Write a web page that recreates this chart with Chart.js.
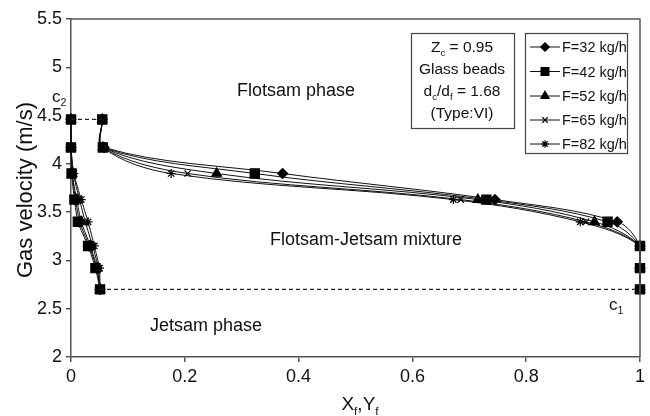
<!DOCTYPE html>
<html>
<head>
<meta charset="utf-8">
<script src="https://cdn.jsdelivr.net/npm/chart.js@4/dist/chart.umd.min.js"></script>
<style>
  html, body { margin: 0; padding: 0; background: #fff; }
  #wrap { width: 650px; height: 416px; position: relative; }
</style>
</head>
<body>
<div id="wrap"><canvas id="c" width="650" height="416"></canvas></div>
<script>
// ---- data ----
const velocities = [2.7, 2.92, 3.15, 3.4, 3.63, 3.9, 4.17, 4.46];   // gas velocity (m/s)
const seriesLabels = ['F=32 kg/h', 'F=42 kg/h', 'F=52 kg/h', 'F=65 kg/h', 'F=82 kg/h'];
const seriesMarkers = ['rectRot', 'rect', 'triangle', 'crossRot', 'star'];
// right branch (composition near 1 at low velocity)
const rightF32 = [1, 1, 1, 0.960, 0.745, 0.372, 0.058, 0.055];
const rightF42 = [1, 1, 1, 0.943, 0.730, 0.323, 0.056, 0.055];
const rightF52 = [1, 1, 1, 0.920, 0.715, 0.256, 0.056, 0.055];
const rightF65 = [1, 1, 1, 0.905, 0.685, 0.205, 0.056, 0.055];
const rightF82 = [1, 1, 1, 0.895, 0.672, 0.176, 0.056, 0.055];
// left branch (composition near 0)
const leftF32 = [0.051, 0.045, 0.032, 0.015, 0.008, 0.002, 0, 0];
const leftF42 = [0.051, 0.043, 0.030, 0.012, 0.006, 0.001, 0, 0];
const leftF52 = [0.051, 0.046, 0.034, 0.018, 0.010, 0.002, 0, 0];
const leftF65 = [0.051, 0.048, 0.038, 0.025, 0.015, 0.004, 0, 0];
const leftF82 = [0.051, 0.050, 0.041, 0.030, 0.018, 0.005, 0, 0];
// dashed boundary lines (C2 top, C1 bottom)
const c2LineX = [0, 0.055];  const c2LineY = [4.46, 4.46];
const c1LineX = [0.051, 1];  const c1LineY = [2.7, 2.7];
const xTicks = [0, 0.2, 0.4, 0.6, 0.8, 1];
const yTicks = [2, 2.5, 3, 3.5, 4, 4.5, 5, 5.5];

const rights = [rightF32, rightF42, rightF52, rightF65, rightF82];
const lefts = [leftF32, leftF42, leftF52, leftF65, leftF82];
const markerRadius = { rectRot: 5, rect: 6.5, triangle: 5.5, crossRot: 4.5, star: 4.5 };

function pts(xs, ys) { return xs.map((x, i) => ({ x: x, y: ys[i] })); }

const datasets = [];
datasets.push({ data: pts(c2LineX, c2LineY), borderColor: '#222', borderWidth: 1.2, borderDash: [4, 3], pointRadius: 0, tension: 0, clip: 10 });
datasets.push({ data: pts(c1LineX, c1LineY), borderColor: '#222', borderWidth: 1.2, borderDash: [4, 3], pointRadius: 0, tension: 0, clip: 10 });
seriesLabels.forEach((lab, i) => {
  const ps = seriesMarkers[i];
  const common = {
    label: lab, borderColor: '#111', backgroundColor: '#000', borderWidth: 1,
    pointStyle: ps, pointRadius: markerRadius[ps], pointBorderWidth: 1.2,
    pointBackgroundColor: '#000', pointBorderColor: '#000', clip: 10
  };
  datasets.push(Object.assign({}, common, { data: pts(rights[i], velocities), tension: 0.35 }));
  datasets.push(Object.assign({}, common, { data: pts(lefts[i], velocities), tension: 0.2 }));
});

const FONT = '"Liberation Sans", Arial, sans-serif';

function subText(ctx, parts, x, y, size, align) {
  let total = 0;
  parts.forEach(p => { ctx.font = (p[1] ? size * 0.62 : size) + 'px ' + FONT; total += ctx.measureText(p[0]).width; });
  let cx = align === 'center' ? x - total / 2 : (align === 'right' ? x - total : x);
  ctx.textAlign = 'left';
  ctx.textBaseline = 'alphabetic';
  parts.forEach(p => {
    ctx.font = (p[1] ? size * 0.62 : size) + 'px ' + FONT;
    ctx.fillText(p[0], cx, p[1] ? y + size * 0.25 : y);
    cx += ctx.measureText(p[0]).width;
  });
}

const decor = {
  id: 'decor',
  afterDraw(chart) {
    const ctx = chart.ctx;
    const a = chart.chartArea;
    ctx.save();
    ctx.strokeStyle = '#555';
    ctx.lineWidth = 1.5;
    ctx.beginPath();
    ctx.moveTo(a.left, a.top); ctx.lineTo(a.right, a.top); ctx.lineTo(a.right, a.bottom);
    ctx.stroke();

    ctx.fillStyle = '#111';
    ctx.font = '18px ' + FONT;
    ctx.textAlign = 'center';
    ctx.textBaseline = 'middle';
    ctx.fillText('Flotsam phase', 296, 91);
    ctx.fillText('Flotsam-Jetsam mixture', 366, 240);
    ctx.fillText('Jetsam phase', 206, 326);

    subText(ctx, [['c', false], ['2', true]], 52, 102, 17, 'left');
    subText(ctx, [['c', false], ['1', true]], 609, 310, 17, 'left');

    ctx.save();
    ctx.translate(26, 190);
    ctx.rotate(-Math.PI / 2);
    ctx.font = '22px ' + FONT;
    ctx.textAlign = 'center';
    ctx.textBaseline = 'middle';
    ctx.fillText('Gas velocity (m/s)', 0, 0);
    ctx.restore();
    subText(ctx, [['X', false], ['f', true], [',Y', false], ['f', true]], 360, 410, 19, 'center');

    ctx.strokeStyle = '#444';
    ctx.lineWidth = 1.2;
    ctx.strokeRect(411.5, 33.5, 103, 95);
    subText(ctx, [['Z', false], ['c', true], [' = 0.95', false]], 462, 52, 15.5, 'center');
    subText(ctx, [['Glass beads', false]], 462, 74, 15.5, 'center');
    subText(ctx, [['d', false], ['c', true], ['/d', false], ['f', true], [' = 1.68', false]], 462, 96, 15.5, 'center');
    subText(ctx, [['(Type:VI)', false]], 462, 118, 15.5, 'center');

    ctx.strokeRect(525.5, 33.5, 102, 120);
    const ys = [47, 71.5, 96, 120, 144];
    seriesLabels.forEach((lab, i) => {
      const y = ys[i];
      ctx.strokeStyle = '#111';
      ctx.lineWidth = 1;
      ctx.beginPath(); ctx.moveTo(530, y); ctx.lineTo(560, y); ctx.stroke();
      ctx.fillStyle = '#000';
      ctx.strokeStyle = '#000';
      ctx.lineWidth = 1.2;
      const ps = seriesMarkers[i];
      Chart.helpers.drawPoint(ctx, { pointStyle: ps, radius: markerRadius[ps] * 0.85, rotation: 0, borderWidth: 1.2 }, 545, y);
      ctx.fillStyle = '#111';
      ctx.font = '14.5px ' + FONT;
      ctx.textAlign = 'left';
      ctx.textBaseline = 'middle';
      ctx.fillText(lab, 562, y + 1);
    });
    ctx.restore();
  }
};

new Chart(document.getElementById('c'), {
  type: 'line',
  data: { datasets: datasets },
  options: {
    responsive: false,
    animation: false,
    events: [],
    layout: { padding: { top: 19, right: 10, left: 0, bottom: 0 } },
    plugins: { legend: { display: false }, tooltip: { enabled: false } },
    scales: {
      x: {
        type: 'linear', min: 0, max: 1,
        afterBuildTicks: s => { s.ticks = xTicks.map(v => ({ value: v })); },
        afterFit: s => { s.height = 59; },
        grid: { display: true, drawOnChartArea: false, drawTicks: true, tickLength: 5, color: '#555', lineWidth: 1.5 },
        border: { display: true, color: '#555', width: 1.5 },
        ticks: { color: '#111', font: { size: 18, family: FONT }, padding: 4, maxRotation: 0, callback: v => String(v) }
      },
      y: {
        type: 'linear', min: 2, max: 5.5,
        afterBuildTicks: s => { s.ticks = yTicks.map(v => ({ value: v })); },
        afterFit: s => { s.width = 71; },
        grid: { display: true, drawOnChartArea: false, drawTicks: true, tickLength: 5, color: '#555', lineWidth: 1.5 },
        border: { display: true, color: '#555', width: 1.5 },
        ticks: { color: '#111', font: { size: 18, family: FONT }, padding: 4, callback: v => String(v) }
      }
    }
  },
  plugins: [decor]
});
</script>
</body>
</html>
